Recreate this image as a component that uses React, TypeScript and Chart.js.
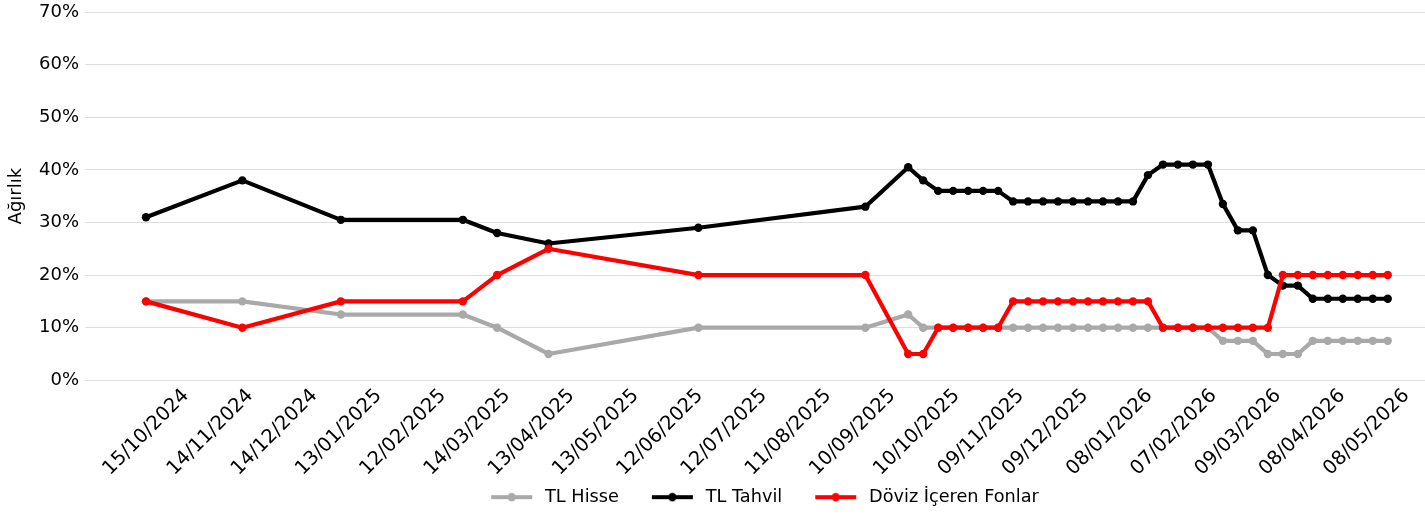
import React, { useEffect, useRef } from 'react';
import { Chart, registerables } from 'chart.js';

Chart.register(...registerables);

// Observation dates (YYYY-MM-DD)
const dates = [
  '2024-10-15', '2024-11-29', '2025-01-14', '2025-03-12', '2025-03-28', '2025-04-21',
  '2025-06-30', '2025-09-16',
  '2025-10-06', '2025-10-13', '2025-10-20', '2025-10-27', '2025-11-03', '2025-11-10',
  '2025-11-17', '2025-11-24', '2025-12-01', '2025-12-08', '2025-12-15', '2025-12-22',
  '2025-12-29', '2026-01-05', '2026-01-12', '2026-01-19', '2026-01-26', '2026-02-02',
  '2026-02-09', '2026-02-16', '2026-02-23', '2026-03-02', '2026-03-09', '2026-03-16',
  '2026-03-23', '2026-03-30', '2026-04-06', '2026-04-13', '2026-04-20', '2026-04-27',
  '2026-05-04', '2026-05-11', '2026-05-18',
];

const tlHisse = [
  15, 15, 12.5, 12.5, 10, 5,
  10, 10,
  12.5, 10, 10, 10, 10, 10,
  10, 10, 10, 10, 10, 10,
  10, 10, 10, 10, 10, 10,
  10, 10, 10, 7.5, 7.5, 7.5,
  5, 5, 5, 7.5, 7.5, 7.5,
  7.5, 7.5, 7.5,
];

const tlTahvil = [
  31, 38, 30.5, 30.5, 28, 26,
  29, 33,
  40.5, 38, 36, 36, 36, 36,
  36, 34, 34, 34, 34, 34,
  34, 34, 34, 34, 39, 41,
  41, 41, 41, 33.5, 28.5, 28.5,
  20, 18, 18, 15.5, 15.5, 15.5,
  15.5, 15.5, 15.5,
];

const dovizFonlar = [
  15, 10, 15, 15, 20, 25,
  20, 20,
  5, 5, 10, 10, 10, 10,
  10, 15, 15, 15, 15, 15,
  15, 15, 15, 15, 15, 10,
  10, 10, 10, 10, 10, 10,
  10, 20, 20, 20, 20, 20,
  20, 20, 20,
];

const xTickLabels = [
  '15/10/2024', '14/11/2024', '14/12/2024', '13/01/2025', '12/02/2025', '14/03/2025',
  '13/04/2025', '13/05/2025', '12/06/2025', '12/07/2025', '11/08/2025', '10/09/2025',
  '10/10/2025', '09/11/2025', '09/12/2025', '08/01/2026', '07/02/2026', '09/03/2026',
  '08/04/2026', '08/05/2026',
];

const yTicks = [0, 10, 20, 30, 40, 50, 60, 70];

const seriesNames = ['TL Hisse', 'TL Tahvil', 'Döviz İçeren Fonlar'];
const seriesColors = ['#a9a9a9', '#000000', '#ff0000'];

const DAY = 86400000;
const baseUtc = (() => {
  const [y, m, d] = dates[0].split('-').map(Number);
  return Date.UTC(y, m - 1, d);
})();
const isoDay = (s: string) => {
  const [y, m, d] = s.split('-').map(Number);
  return Math.round((Date.UTC(y, m - 1, d) - baseUtc) / DAY);
};
const labelDay = (s: string) => {
  const [d, m, y] = s.split('/').map(Number);
  return Math.round((Date.UTC(y, m - 1, d) - baseUtc) / DAY);
};

export default function App() {
  const ref = useRef<HTMLCanvasElement | null>(null);

  useEffect(() => {
    document.body.style.margin = '0';
    const canvas = ref.current;
    if (!canvas) return;

    // legend handle: blank lead-in, line with a marker, small tail gap
    const LEAD = 23;
    const TAIL = 4;
    const mkHandle = (color: string) => {
      const c = document.createElement('canvas');
      c.width = LEAD + 41 + TAIL;
      c.height = 10;
      const g = c.getContext('2d')!;
      g.strokeStyle = color;
      g.lineWidth = 4;
      g.beginPath();
      g.moveTo(LEAD, 5);
      g.lineTo(LEAD + 41, 5);
      g.stroke();
      g.fillStyle = color;
      g.beginPath();
      g.arc(LEAD + 20.5, 5, 4.2, 0, Math.PI * 2);
      g.fill();
      return c;
    };
    const handles = seriesColors.map(mkHandle);
    const seriesValues = [tlHisse, tlTahvil, dovizFonlar];

    Chart.defaults.font.family = "'DejaVu Sans', sans-serif";
    Chart.defaults.font.size = 18;
    Chart.defaults.color = '#000000';

    // Legend is centred on the (partly cropped) axes box, not the canvas
    const legendShift = {
      id: 'legendShift',
      afterLayout(ch: any) {
        const lg = ch.legend;
        if (!lg) return;
        const dx = 41;
        lg.left += dx;
        lg.right += dx;
      },
    };

    const chart = new Chart(canvas, {
      type: 'line',
      data: {
        datasets: seriesNames.map((name, i) => ({
          label: name,
          data: dates.map((d, j) => ({ x: isoDay(d), y: seriesValues[i][j] })),
          borderColor: seriesColors[i],
          backgroundColor: seriesColors[i],
          borderWidth: 4.2,
          pointRadius: 4.2,
          pointHoverRadius: 4.2,
          pointBorderWidth: 0,
          pointBackgroundColor: seriesColors[i],
          tension: 0,
          borderJoinStyle: 'round' as const,
          order: seriesNames.length - i,
        })),
      },
      options: {
        responsive: false,
        animation: false,
        events: [],
        layout: { autoPadding: false, padding: { top: 12, left: 0, right: 0, bottom: 0 } },
        scales: {
          x: {
            type: 'linear',
            min: -28.5,
            max: 597.4,
            afterBuildTicks: (s: any) => {
              s.ticks = xTickLabels.map((l) => ({ value: labelDay(l) }));
            },
            afterFit: (s: any) => {
              s.height = 98;
              s.paddingLeft = 0;
              s.paddingRight = 0;
            },
            grid: { display: false, drawTicks: false },
            border: { display: false },
            ticks: {
              autoSkip: false,
              minRotation: 45,
              maxRotation: 45,
              labelOffset: 40,
              padding: 4,
              font: { size: 19.5 },
              callback: (_v: any, idx: number) => xTickLabels[idx],
            },
          },
          y: {
            min: 0,
            max: 70,
            afterBuildTicks: (s: any) => {
              s.ticks = yTicks.map((v) => ({ value: v }));
            },
            afterFit: (s: any) => {
              s.width = 85;
              s.paddingTop = 0;
              s.paddingBottom = 0;
            },
            grid: { color: '#dddddd', lineWidth: 1, drawTicks: false },
            border: { display: false },
            ticks: {
              padding: 6,
              callback: (v: any) => `${v}%`,
            },
            title: {
              display: true,
              text: 'Ağırlık',
              font: { size: 18 },
              padding: { top: 6, bottom: 0 },
            },
          },
        },
        plugins: {
          legend: {
            position: 'bottom',
            labels: {
              usePointStyle: true,
              pointStyleWidth: LEAD + 41 + TAIL,
              padding: 10,
              font: { size: 17.7 },
              generateLabels: (ch: any) =>
                ch.data.datasets.map((ds: any, i: number) => ({
                  text: ds.label,
                  fillStyle: seriesColors[i],
                  strokeStyle: seriesColors[i],
                  lineWidth: 0,
                  pointStyle: handles[i],
                  datasetIndex: i,
                  hidden: false,
                  fontColor: '#000000',
                })),
            },
          },
          tooltip: { enabled: false },
        },
      },
      plugins: [legendShift],
    } as any);

    return () => chart.destroy();
  }, []);

  return (
    <div style={{ position: 'absolute', left: 0, top: 0, width: 1425, height: 516 }}>
      <canvas ref={ref} width={1425} height={516} style={{ width: 1425, height: 516, display: 'block' }} />
    </div>
  );
}
